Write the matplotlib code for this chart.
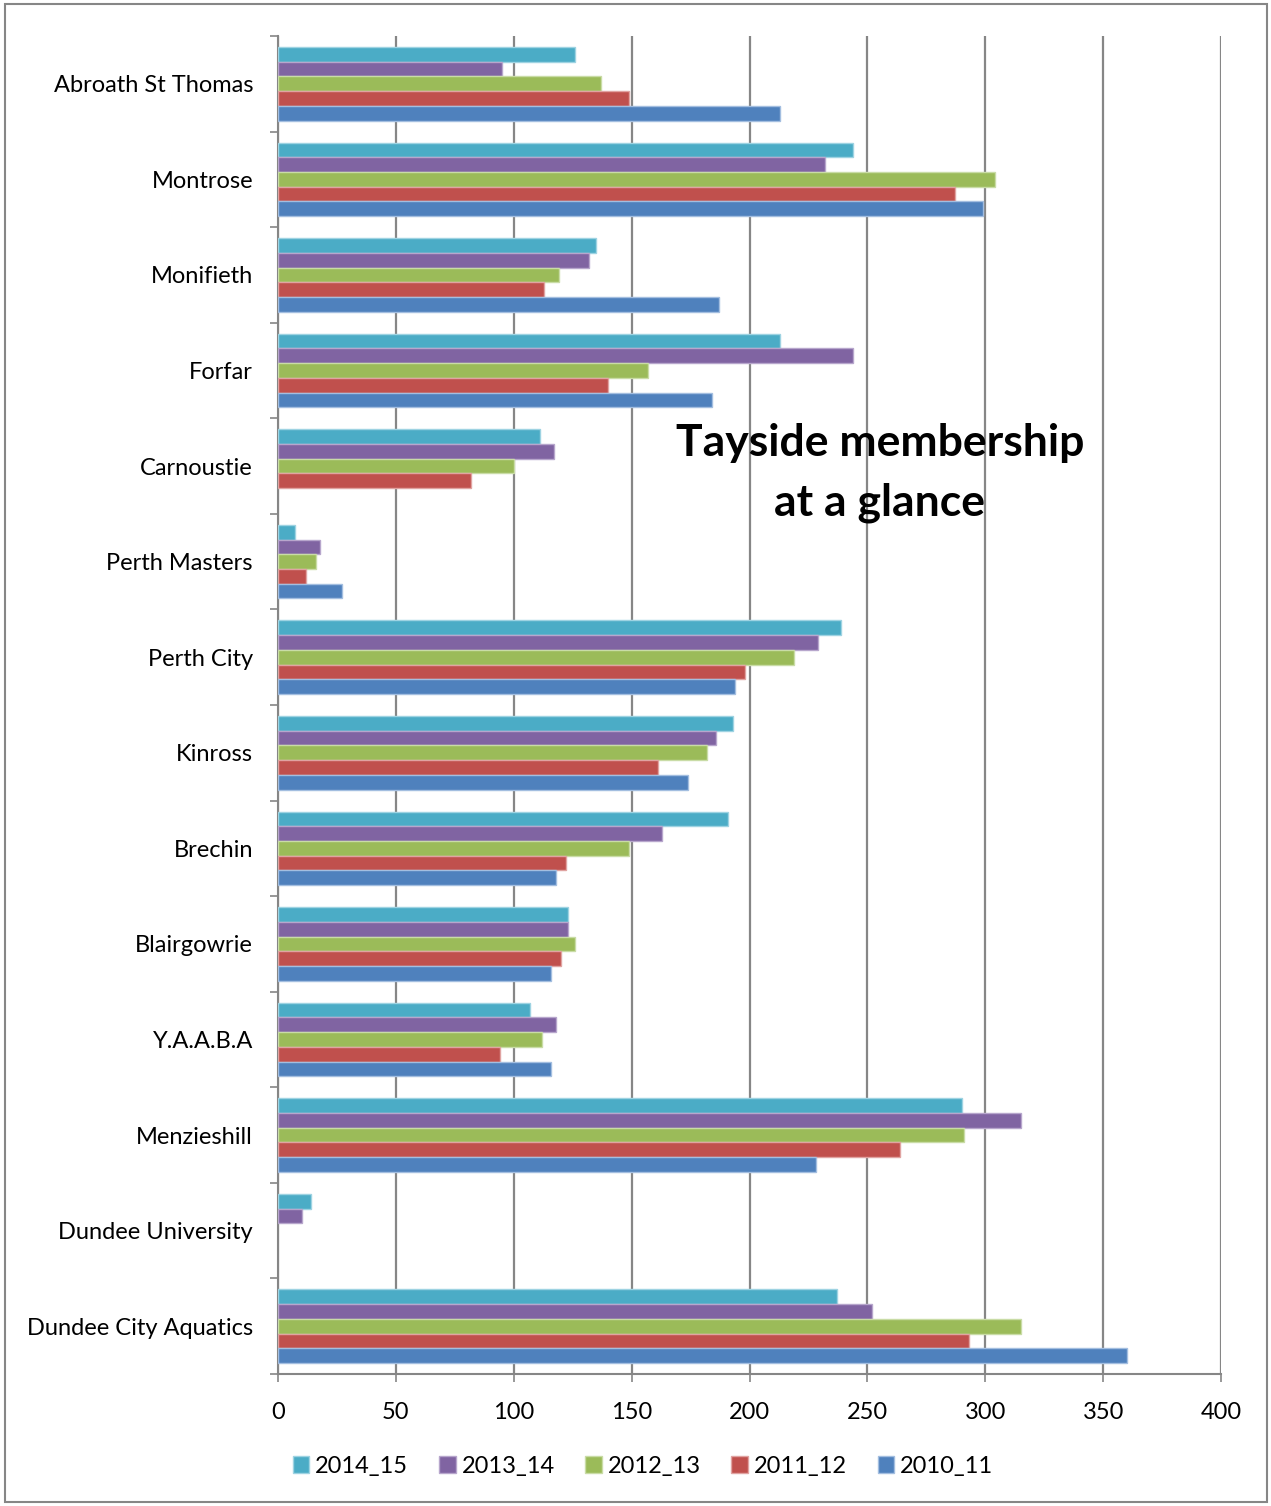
import numpy as np
import matplotlib
matplotlib.use('Agg')
import matplotlib.pyplot as plt
from matplotlib.patches import Rectangle

clubs = ['Abroath St Thomas', 'Montrose', 'Monifieth', 'Forfar', 'Carnoustie',
         'Perth Masters', 'Perth City', 'Kinross', 'Brechin', 'Blairgowrie',
         'Y.A.A.B.A', 'Menzieshill', 'Dundee University', 'Dundee City Aquatics']
seasons = ['2014_15', '2013_14', '2012_13', '2011_12', '2010_11']

s2014_15 = [126, 244, 135, 213, 111, 7, 239, 193, 191, 123, 107, 290, 14, 237]
s2013_14 = [95, 232, 132, 244, 117, 18, 229, 186, 163, 123, 118, 315, 10, 252]
s2012_13 = [137, 304, 119, 157, 100, 16, 219, 182, 149, 126, 112, 291, 0, 315]
s2011_12 = [149, 287, 113, 140, 82, 12, 198, 161, 122, 120, 94, 264, 0, 293]
s2010_11 = [213, 299, 187, 184, 0, 27, 194, 174, 118, 116, 116, 228, 0, 360]

colors = ['#4BACC6', '#8064A2', '#9BBB59', '#C0504D', '#4F81BD']
edges = ['#9ED3E2', '#B7A6CC', '#C9DCA6', '#E0A3A1', '#A3BEE0']

plt.rcParams['font.family'] = ['Lato', 'DejaVu Sans']
W, H = 1271, 1506
fig = plt.figure(figsize=(W / 100, H / 100), dpi=100)
ax = fig.add_axes([278 / W, 1 - 1374 / H, (1221 - 278) / W, (1374 - 36) / H])

y = np.arange(len(clubs))
bh = 0.154
series = [s2014_15, s2013_14, s2012_13, s2011_12, s2010_11]
for i, (vals, c, e) in enumerate(zip(series, colors, edges)):
    # empty seasons get no outline so no sliver shows at zero
    lws = [1 if v > 0 else 0 for v in vals]
    ax.barh(y + (i - 2) * bh, vals, height=bh, color=c, edgecolor=e,
            linewidth=lws, label=seasons[i], zorder=3)

ax.set_xlim(0, 400)
ax.set_ylim(len(clubs) - 0.5, -0.5)
ax.set_xticks(np.arange(0, 401, 50))
ax.tick_params(axis='x', labelsize=17, length=6, width=1.2, color='#868686',
               pad=14, direction='out')
ax.grid(axis='x', color='#868686', linewidth=1.6, zorder=0)

ax.set_yticks(np.arange(len(clubs) + 1) - 0.5)
ax.set_yticklabels([])
ax.tick_params(axis='y', which='major', length=6, width=1.2, color='#868686')
ax.set_yticks(y, minor=True)
ax.set_yticklabels(clubs, minor=True)
ax.tick_params(axis='y', which='minor', length=0, labelsize=17, pad=18)

for s in ['top', 'right']:
    ax.spines[s].set_visible(False)
for s in ['left', 'bottom']:
    ax.spines[s].set_color('#868686')
    ax.spines[s].set_linewidth(1.5)

fig.text(880 / W, 1 - 473 / H, 'Tayside membership\nat a glance', ha='center',
         va='center', fontsize=32, fontweight='bold', linespacing=1.6)

fig.legend(loc='center', bbox_to_anchor=(643 / W, 1 - 1466 / H), ncol=5,
           frameon=False, fontsize=17, handlelength=0.7, handleheight=0.7,
           handletextpad=0.25, columnspacing=1.3)

fig.patches.append(Rectangle((5 / W, 4 / H), 1262 / W, 1498 / H,
                             transform=fig.transFigure, fill=False,
                             edgecolor='#868686', linewidth=1.5))

fig.savefig('out.png', dpi=100)
